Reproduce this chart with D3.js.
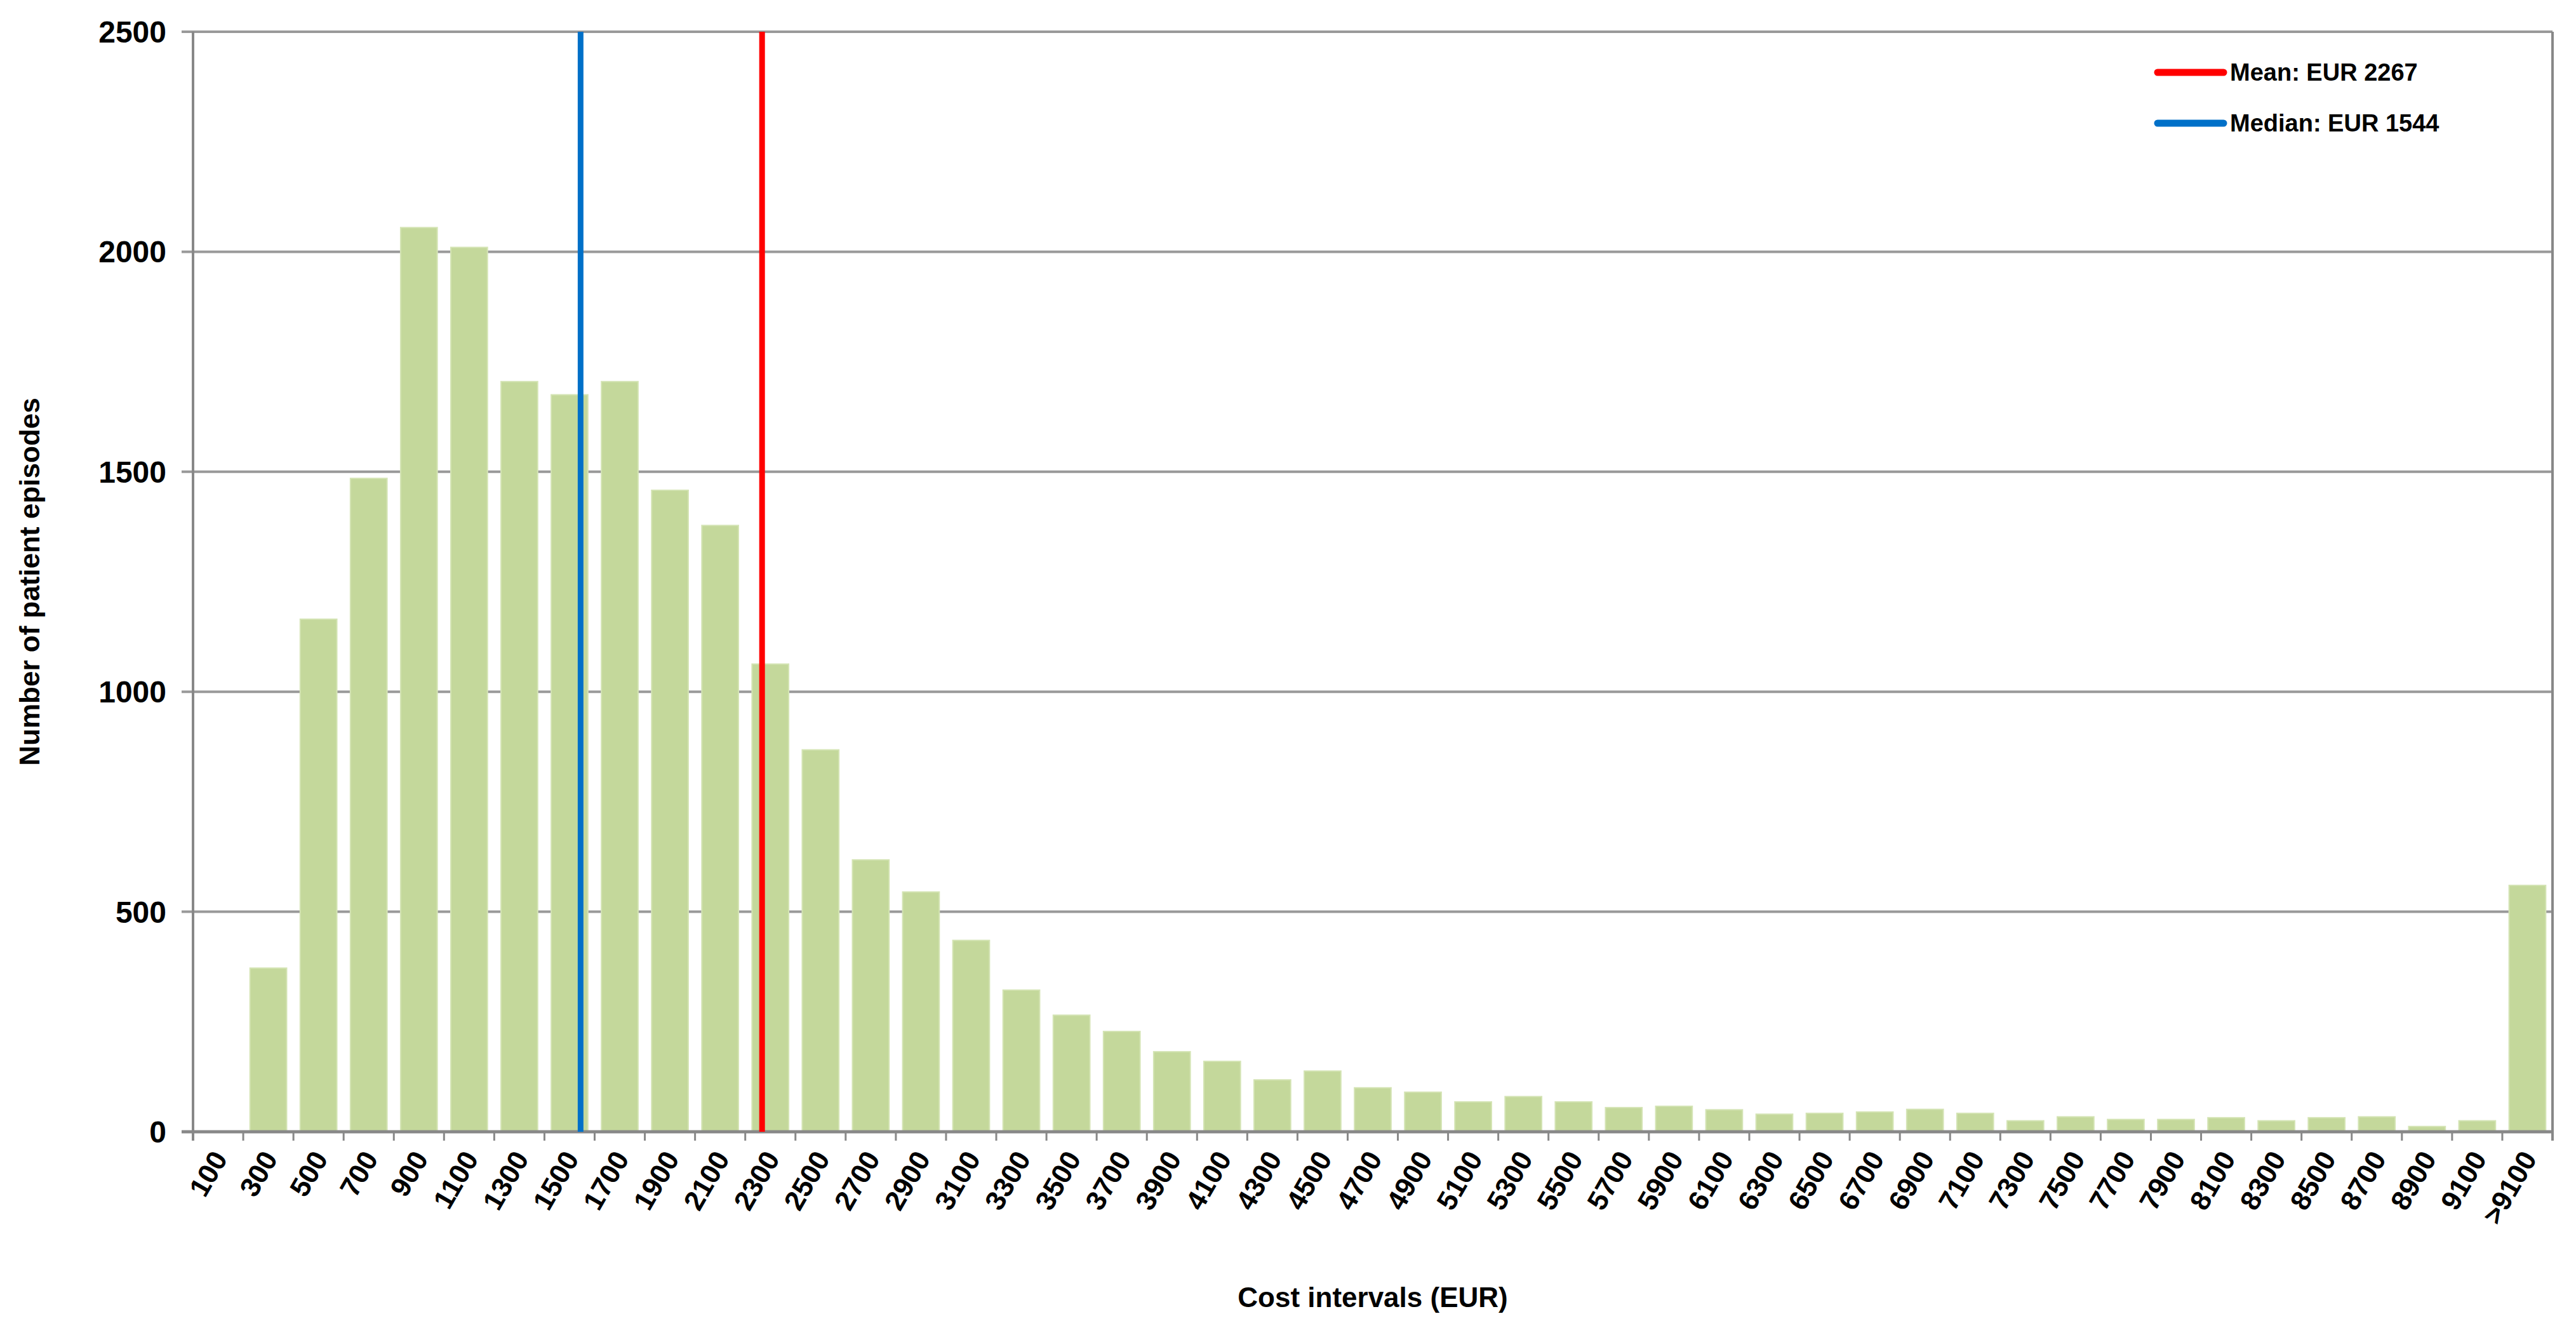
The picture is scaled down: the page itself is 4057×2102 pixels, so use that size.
<!DOCTYPE html>
<html>
<head>
<meta charset="utf-8">
<script src="https://cdn.jsdelivr.net/npm/d3@7"></script>
<style>
body { margin: 0; background: #fff; }
text { font-family: "Liberation Sans Narrow", "Liberation Sans", Arial, sans-serif; }
</style>
</head>
<body>
<svg id="chart" width="4057" height="2102"></svg>
<script>
var categories = ["100","300","500","700","900","1100","1300","1500","1700","1900","2100","2300","2500","2700","2900",
    "3100","3300","3500","3700","3900","4100","4300","4500","4700","4900","5100","5300","5500","5700","5900",
    "6100","6300","6500","6700","6900","7100","7300","7500","7700","7900","8100","8300","8500","8700","8900","9100",">9100"];
var episodes = [0,372,1165,1485,2055,2010,1705,1675,1705,1458,1378,1063,868,618,545,
    435,322,265,228,182,160,118,138,100,90,68,80,68,55,58,
    50,40,42,45,51,42,25,34,28,28,32,25,32,34,12,25,560];
var yTicks = [0,500,1000,1500,2000,2500];
var markers = [
    {label: "Mean:  EUR 2267", value: 2267, color: "#ff0000"},
    {label: "Median:  EUR 1544", value: 1544, color: "#0070c8"}
];

var plotLeft = 304, plotRight = 4020, plotTop = 50, plotBottom = 1782;
var svg = d3.select("#chart");

var x = d3.scaleBand().domain(categories).range([plotLeft, plotRight]).paddingInner(0.27).paddingOuter(0.135);
var y = d3.scaleLinear().domain([0, 2500]).range([plotBottom, plotTop]);
// cost value -> x position, band centres sit at their label value
var step = x.step();
var xv = d3.scaleLinear().domain([100, 300]).range([plotLeft + step / 2, plotLeft + step * 1.5]);

// grid
svg.append("g").selectAll("line").data(yTicks.slice(1)).join("line")
    .attr("x1", plotLeft - 18).attr("x2", plotRight)
    .attr("y1", d => y(d)).attr("y2", d => y(d))
    .attr("stroke", "#999").attr("stroke-width", 4);

svg.append("g").selectAll("text").data(yTicks).join("text")
    .attr("x", 262).attr("y", d => y(d) + 17)
    .attr("text-anchor", "end").attr("font-size", 48).attr("font-weight", "bold")
    .text(d => d);

// bars
svg.append("g").selectAll("rect").data(categories).join("rect")
    .attr("x", d => x(d)).attr("width", x.bandwidth())
    .attr("y", (d, i) => y(episodes[i])).attr("height", (d, i) => y(0) - y(episodes[i]))
    .attr("fill", "#c4d89b").attr("stroke", "#d4e4b4").attr("stroke-width", 2);

// axes frame
svg.append("line").attr("x1", plotLeft).attr("x2", plotLeft).attr("y1", plotTop).attr("y2", plotBottom + 14)
    .attr("stroke", "#888").attr("stroke-width", 4);
svg.append("line").attr("x1", plotRight).attr("x2", plotRight).attr("y1", plotTop).attr("y2", plotBottom + 14)
    .attr("stroke", "#888").attr("stroke-width", 4);
svg.append("line").attr("x1", plotLeft - 18).attr("x2", plotRight).attr("y1", plotBottom).attr("y2", plotBottom)
    .attr("stroke", "#888").attr("stroke-width", 5);
svg.append("g").selectAll("line").data(d3.range(categories.length)).join("line")
    .attr("x1", i => plotLeft + step * i).attr("x2", i => plotLeft + step * i)
    .attr("y1", plotBottom).attr("y2", plotBottom + 14)
    .attr("stroke", "#888").attr("stroke-width", 3);

svg.append("g").selectAll("text").data(categories).join("text")
    .attr("transform", d => "translate(" + (x(d) + x.bandwidth() / 2 + 16) + "," + (plotBottom + 42) + ") rotate(-60)")
    .attr("text-anchor", "end").attr("font-size", 44).attr("font-weight", "bold")
    .text(d => d);

// mean / median lines
svg.append("g").selectAll("line").data(markers).join("line")
    .attr("x1", d => xv(d.value)).attr("x2", d => xv(d.value))
    .attr("y1", plotTop).attr("y2", plotBottom)
    .attr("stroke", d => d.color).attr("stroke-width", 9);

// legend
var lg = svg.append("g").selectAll("g").data(markers).join("g")
    .attr("transform", (d, i) => "translate(3398," + (114 + i * 80) + ")");
lg.append("line").attr("x1", 0).attr("x2", 104)
    .attr("stroke", d => d.color).attr("stroke-width", 11).attr("stroke-linecap", "round");
lg.append("text").attr("x", 114).attr("y", 13)
    .attr("font-size", 38).attr("font-weight", "bold").text(d => d.label);

// axis titles
svg.append("text").attr("transform", "translate(62," + (plotTop + plotBottom) / 2 + ") rotate(-90)")
    .attr("text-anchor", "middle").attr("font-size", 44).attr("font-weight", "bold")
    .text("Number of patient episodes");
svg.append("text").attr("x", (plotLeft + plotRight) / 2).attr("y", 2058)
    .attr("text-anchor", "middle").attr("font-size", 44).attr("font-weight", "bold")
    .text("Cost intervals (EUR)");
</script>
</body>
</html>
